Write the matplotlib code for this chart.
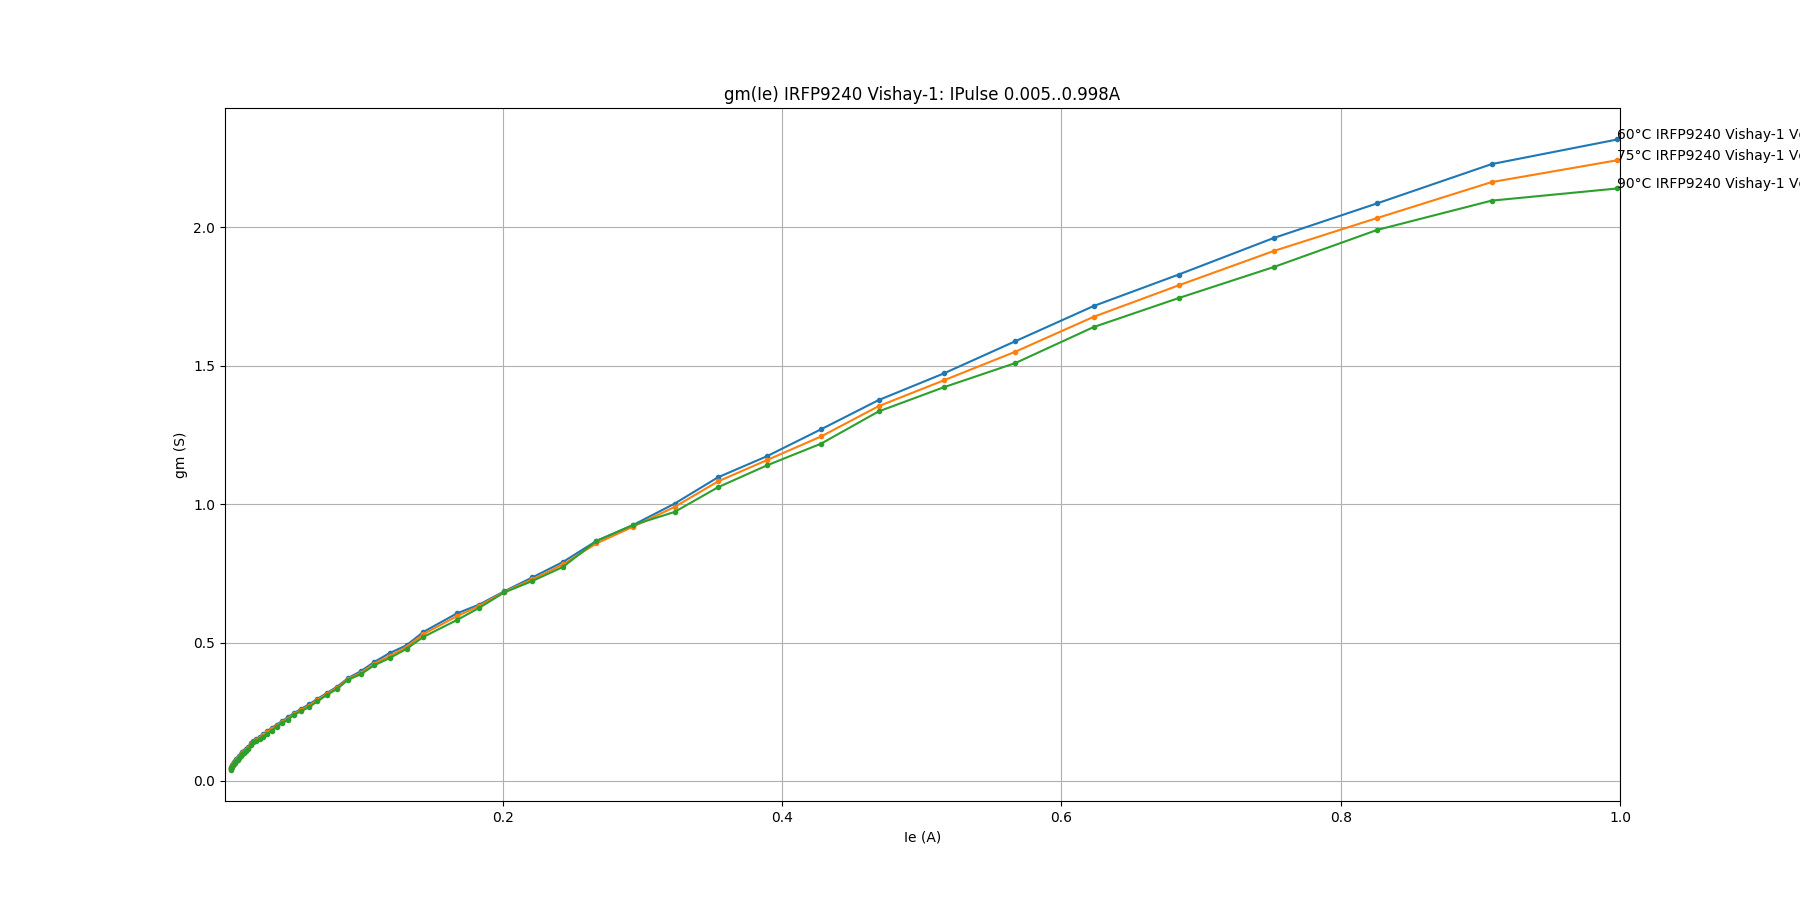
import matplotlib
matplotlib.use("Agg")
import matplotlib.pyplot as plt

title = "gm(Ie) IRFP9240 Vishay-1: IPulse 0.005..0.998A"
x_label = "Ie (A)"
y_label = "gm (S)"

ie = [0.0051, 0.0056, 0.0062, 0.0068, 0.0075, 0.0083, 0.0091, 0.0100, 0.0110, 0.0121,
      0.0133, 0.0146, 0.0161, 0.0177, 0.0195, 0.0214, 0.0235, 0.0259, 0.0285, 0.0313,
      0.0344, 0.0379, 0.0417, 0.0458, 0.0504, 0.0555, 0.0610, 0.0671, 0.0738, 0.0812,
      0.0893, 0.0982,
      0.108, 0.119, 0.131, 0.143, 0.167, 0.183, 0.201, 0.221, 0.243, 0.267,
      0.293, 0.323, 0.354, 0.389, 0.428, 0.469, 0.516, 0.567, 0.623, 0.684,
      0.752, 0.826, 0.908, 0.998]

gm_60 = [0.044, 0.050, 0.056, 0.061, 0.067, 0.072, 0.078, 0.084, 0.090, 0.097,
         0.103, 0.109, 0.116, 0.124, 0.135, 0.143, 0.152, 0.160, 0.169, 0.180,
         0.191, 0.203, 0.215, 0.229, 0.245, 0.260, 0.276, 0.296, 0.317, 0.340,
         0.372, 0.396,
         0.430, 0.462, 0.490, 0.538, 0.605, 0.637, 0.685, 0.735, 0.791, 0.867,
         0.924, 1.002, 1.097, 1.173, 1.271, 1.376, 1.473, 1.589, 1.716, 1.830,
         1.962, 2.087, 2.229, 2.318]

gm_75 = [0.042, 0.048, 0.053, 0.058, 0.064, 0.069, 0.075, 0.080, 0.087, 0.093,
         0.099, 0.105, 0.112, 0.120, 0.132, 0.141, 0.148, 0.156, 0.165, 0.175,
         0.186, 0.199, 0.212, 0.225, 0.242, 0.256, 0.271, 0.292, 0.314, 0.336,
         0.369, 0.390,
         0.424, 0.452, 0.484, 0.530, 0.595, 0.632, 0.683, 0.728, 0.782, 0.858,
         0.918, 0.990, 1.082, 1.159, 1.245, 1.354, 1.448, 1.551, 1.677, 1.791,
         1.915, 2.034, 2.164, 2.243]

gm_90 = [0.041, 0.046, 0.051, 0.056, 0.061, 0.066, 0.072, 0.077, 0.083, 0.089,
         0.096, 0.101, 0.107, 0.114, 0.128, 0.140, 0.144, 0.151, 0.160, 0.170,
         0.181, 0.196, 0.209, 0.220, 0.239, 0.252, 0.266, 0.287, 0.310, 0.332,
         0.366, 0.385,
         0.418, 0.444, 0.477, 0.520, 0.581, 0.625, 0.681, 0.722, 0.773, 0.867,
         0.924, 0.972, 1.061, 1.140, 1.219, 1.335, 1.423, 1.510, 1.640, 1.745,
         1.857, 1.991, 2.097, 2.141]

series_labels = ["60°C IRFP9240 Vishay-1 Vce=10V",
                 "75°C IRFP9240 Vishay-1 Vce=10V",
                 "90°C IRFP9240 Vishay-1 Vce=10V"]
series = [gm_60, gm_75, gm_90]
colors = ["#1f77b4", "#ff7f0e", "#2ca02c"]

fig, ax = plt.subplots(figsize=(18, 9), dpi=100)
for ys, lab, c in zip(series, series_labels, colors):
    ax.plot(ie, ys, marker=".", color=c)
    ax.text(ie[-1], ys[-1], lab)

ax.set_title(title)
ax.set_xlabel(x_label)
ax.set_ylabel(y_label)
ax.set_xlim(0.001, 1.0)
ax.grid(True)
fig.savefig("out.png")
